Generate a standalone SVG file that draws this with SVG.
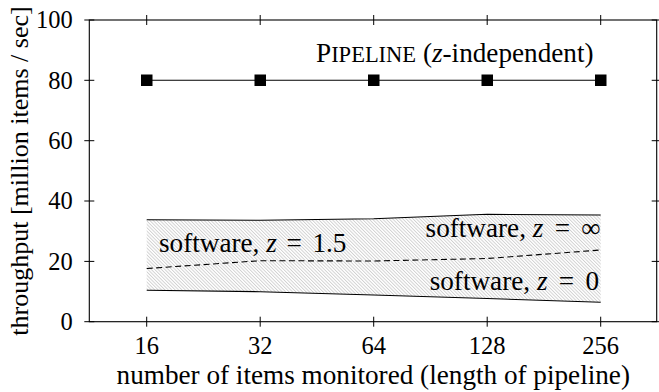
<svg xmlns="http://www.w3.org/2000/svg" width="659" height="392" viewBox="0 0 659 392" font-family="'Liberation Serif', 'DejaVu Serif', serif">
<defs>
<pattern id="hatch" patternUnits="userSpaceOnUse" width="2.4" height="10" patternTransform="rotate(-45)">
<line x1="0.5" y1="0" x2="0.5" y2="10" stroke="#a8a8a8" stroke-width="0.55"/>
</pattern>
<style>
text{font-family:'Liberation Serif','DejaVu Serif',serif;font-size:27.2px;fill:#000}
text.t{font-size:24.5px}
text.yl{font-size:26px}
.sc{font-size:22.5px}
.ax{stroke:#000;stroke-width:1.1;fill:none}
.tk{stroke:#000;stroke-width:1}
.ln{stroke:#000;stroke-width:1.1;fill:none}
.mk{fill:#000}
.i{font-style:italic}
</style>
</defs>
<rect width="659" height="392" fill="#fff"/>
<g id="band">
<path d="M146.7,219.7 L260.2,220.3 L373.7,218.7 L487.2,214.3 L600.7,215 L600.7,302.3 L487.2,298.5 L373.7,295 L260.2,291.7 L146.7,290.3 Z" fill="url(#hatch)" stroke="none"/>
</g>
<g id="connectors">
<polyline class="ln" points="146.7,219.7 260.2,220.3 373.7,218.7 487.2,214.3 600.7,215"/>
<polyline class="ln" points="146.7,290.3 260.2,291.7 373.7,295 487.2,298.5 600.7,302.3"/>
<polyline class="ln" stroke-dasharray="6,3.5" points="146.7,268.5 260.2,260.7 373.7,261 487.2,258.5 600.7,250"/>
<line class="ln" x1="146.7" y1="80.3" x2="600.7" y2="80.3"/>
</g>
<g id="axes">
<rect class="ax" x="89.3" y="20" width="567.4" height="301.7"/>
<g class="tk">
<path d="M84.3,321.7h10M84.3,261.4h10M84.3,201.0h10M84.3,140.7h10M84.3,80.3h10M84.3,20h10"/>
<path d="M651.7,321.7h10M651.7,261.4h10M651.7,201.0h10M651.7,140.7h10M651.7,80.3h10M651.7,20h10"/>
<path d="M146.7,316.7v10M260.2,316.7v10M373.7,316.7v10M487.2,316.7v10M600.7,316.7v10"/>
<path d="M146.7,15v10M260.2,15v10M373.7,15v10M487.2,15v10M600.7,15v10"/>
</g>
<g text-anchor="end">
<text class="t" x="72.7" y="330">0</text>
<text class="t" x="72.7" y="269.7">20</text>
<text class="t" x="72.7" y="209.3">40</text>
<text class="t" x="72.7" y="149">60</text>
<text class="t" x="72.7" y="88.6">80</text>
<text class="t" x="72.7" y="28.3">100</text>
</g>
<g text-anchor="middle">
<text class="t" x="146.7" y="354">16</text>
<text class="t" x="260.2" y="354">32</text>
<text class="t" x="373.7" y="354">64</text>
<text class="t" x="487.2" y="354">128</text>
<text class="t" x="600.7" y="354">256</text>
</g>
<text x="373.3" y="384" text-anchor="middle">number of items monitored (length of pipeline)</text>
<text class="yl" transform="translate(28,171) rotate(-90)" text-anchor="middle">throughput [million items / sec]</text>
</g>
<g id="pipeline">
<rect class="mk" x="141" y="74.5" width="11.5" height="11.5"/>
<rect class="mk" x="254.5" y="74.5" width="11.5" height="11.5"/>
<rect class="mk" x="368" y="74.5" width="11.5" height="11.5"/>
<rect class="mk" x="481.5" y="74.5" width="11.5" height="11.5"/>
<rect class="mk" x="595" y="74.5" width="11.5" height="11.5"/>
<text x="316" y="61.7">P<tspan class="sc">IPELINE</tspan> (<tspan class="i">z</tspan>-independent)</text>
</g>
<g id="sw15"><text x="159" y="251.7">software, <tspan class="i">z</tspan><tspan dx="3"> =</tspan><tspan dx="3.7"> 1.5</tspan></text></g>
<g id="swinf"><text x="600.7" y="236.7" text-anchor="end">software, <tspan class="i">z</tspan><tspan dx="4.5"> =</tspan><tspan dx="4.5"> ∞</tspan><tspan dx="4"></tspan></text></g>
<g id="sw0"><text x="599" y="290" text-anchor="end">software, <tspan class="i">z</tspan><tspan dx="4.5"> =</tspan><tspan dx="4.5"> 0</tspan></text></g>
</svg>
